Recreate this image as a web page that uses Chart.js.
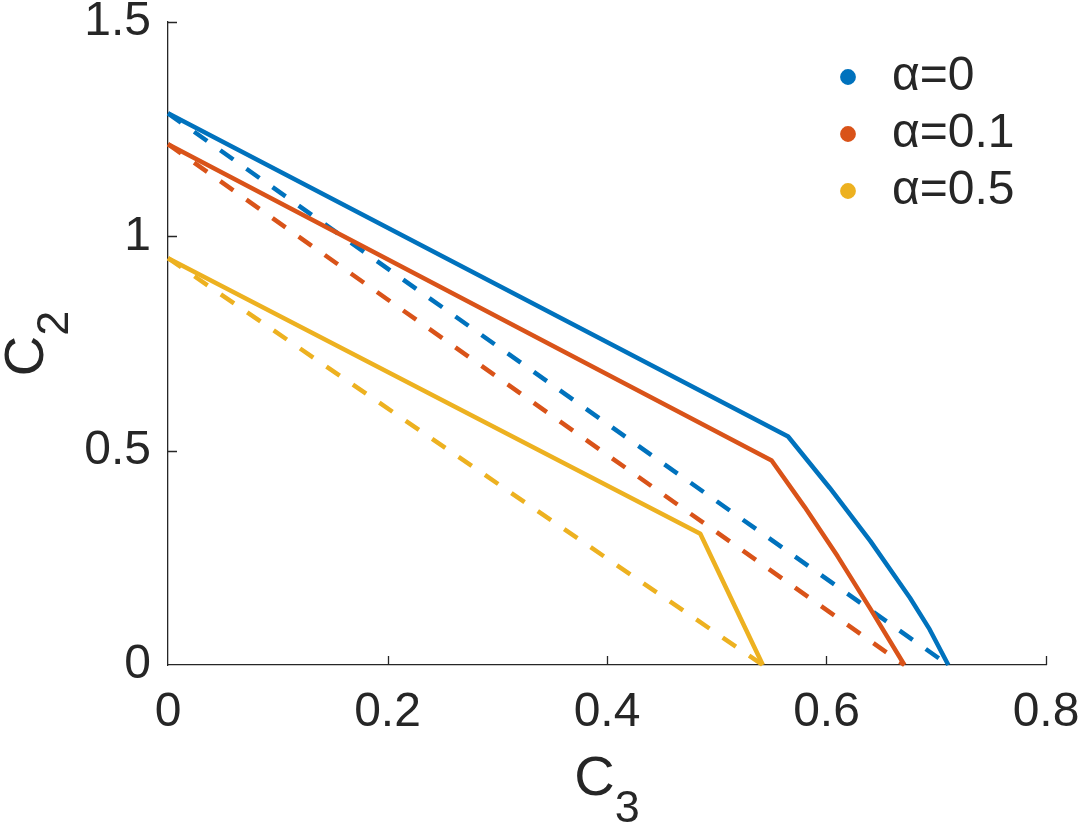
<!DOCTYPE html>
<html><head><meta charset="utf-8">
<script src="https://cdn.jsdelivr.net/npm/chart.js@4.4.1/dist/chart.umd.min.js"></script>
<style>html,body{margin:0;padding:0;background:#fff;overflow:hidden}</style>
</head><body>
<canvas id="c" width="1084" height="828"></canvas>
<script>
// ---- data ----
const seriesLabels = ['α=0', 'α=0.1', 'α=0.5'];
const seriesColors = ['#0072BD', '#D95319', '#EDB120'];

const solidC3_a0  = [0, 0.565, 0.603, 0.640, 0.676, 0.694, 0.711];
const solidC2_a0  = [1.287, 0.533, 0.413, 0.289, 0.157, 0.083, 0];
const solidC3_a01 = [0, 0.550, 0.580, 0.610, 0.640, 0.671];
const solidC2_a01 = [1.215, 0.477, 0.369, 0.254, 0.131, 0];
const solidC3_a05 = [0, 0.485, 0.542];
const solidC2_a05 = [0.949, 0.306, 0];

const dashC3_a0  = [0, 0.711];
const dashC2_a0  = [1.287, 0];
const dashC3_a01 = [0, 0.671];
const dashC2_a01 = [1.215, 0];
const dashC3_a05 = [0, 0.542];
const dashC2_a05 = [0.949, 0];

const xTickValues = [0, 0.2, 0.4, 0.6, 0.8];
const xTickLabels = ['0', '0.2', '0.4', '0.6', '0.8'];
const yTickValues = [0, 0.5, 1, 1.5];
const yTickLabels = ['0', '0.5', '1', '1.5'];
const xTitleMain = 'C', xTitleSub = '3';
const yTitleMain = 'C', yTitleSub = '2';

// ---- build ----
const toPts = (xs, ys) => xs.map((x, i) => ({x: x, y: ys[i]}));
const TEXT = '#262626';
const FONT = 'Liberation Sans, Arial, Helvetica, sans-serif';

function lineDs(label, xs, ys, color, dashed) {
  return {
    label: label, data: toPts(xs, ys), borderColor: color, backgroundColor: color,
    borderWidth: 4.5, borderDash: dashed ? [16, 16] : [], pointRadius: 0,
    borderJoinStyle: 'round',
    showLine: true, fill: false, tension: 0, clip: false, isDashed: dashed
  };
}

const datasets = [
  lineDs(seriesLabels[0], solidC3_a0, solidC2_a0, seriesColors[0], false),
  lineDs(seriesLabels[1], solidC3_a01, solidC2_a01, seriesColors[1], false),
  lineDs(seriesLabels[2], solidC3_a05, solidC2_a05, seriesColors[2], false),
  lineDs(seriesLabels[0], dashC3_a0, dashC2_a0, seriesColors[0], true),
  lineDs(seriesLabels[1], dashC3_a01, dashC2_a01, seriesColors[1], true),
  lineDs(seriesLabels[2], dashC3_a05, dashC2_a05, seriesColors[2], true)
];

const legendPlacer = {
  id: 'legendPlacer',
  afterLayout(chart) {
    const lg = chart.legend;
    if (!lg) return;
    const w = lg.right - lg.left, h = lg.bottom - lg.top;
    lg.left = 819; lg.top = 44; lg.right = lg.left + w; lg.bottom = lg.top + h;
  }
};

const innerTicks = {
  id: 'innerTicks',
  afterDraw(chart) {
    const ctx = chart.ctx, xs = chart.scales.x, ys = chart.scales.y;
    const ca = chart.chartArea, len = 9;
    ctx.save();
    ctx.strokeStyle = TEXT; ctx.lineWidth = 1.3;
    ctx.beginPath();
    xTickValues.forEach(v => {
      if (v === 0) return;
      const px = Math.round(xs.getPixelForValue(v)) + 0.5;
      ctx.moveTo(px, ca.bottom); ctx.lineTo(px, ca.bottom - len);
    });
    yTickValues.forEach(v => {
      if (v === 0) return;
      const py = Math.round(ys.getPixelForValue(v)) + 0.5;
      ctx.moveTo(ca.left, py); ctx.lineTo(ca.left + len, py);
    });
    ctx.stroke();

    // axis titles with subscripts
    ctx.fillStyle = TEXT;
    ctx.textBaseline = 'alphabetic';
    ctx.textAlign = 'left';
    const mainFont = '56px ' + FONT, subFont = '45px ' + FONT;
    ctx.font = mainFont; const wMain = ctx.measureText(xTitleMain).width;
    ctx.font = subFont; const wSub = ctx.measureText(xTitleSub).width;
    const cx = (ca.left + ca.right) / 2;
    const x0 = cx - (wMain + wSub) / 2;
    ctx.font = mainFont; ctx.fillText(xTitleMain, x0, ca.bottom + 130);
    ctx.font = subFont; ctx.fillText(xTitleSub, x0 + wMain, ca.bottom + 157);

    const cy = (ca.top + ca.bottom) / 2;
    ctx.translate(43, cy + (wMain + wSub) / 2);
    ctx.rotate(-Math.PI / 2);
    ctx.font = mainFont; ctx.fillText(yTitleMain, 0, 0);
    ctx.font = subFont; ctx.fillText(yTitleSub, wMain, 25);
    ctx.restore();
  }
};

new Chart(document.getElementById('c'), {
  type: 'scatter',
  data: { datasets: datasets },
  options: {
    responsive: false, animation: false, devicePixelRatio: 1,
    layout: { padding: { left: 0, top: 22, right: 38, bottom: 0 } },
    plugins: {
      legend: {
        position: 'chartArea', align: 'start',
        labels: {
          usePointStyle: true, pointStyle: 'circle', boxWidth: 40, boxHeight: 8,
          padding: 9, color: TEXT, font: { family: FONT, size: 48 },
          filter: (item, data) => !data.datasets[item.datasetIndex].isDashed
        }
      },
      tooltip: { enabled: false }
    },
    scales: {
      x: {
        type: 'linear', min: 0, max: 0.8,
        afterBuildTicks: s => { s.ticks = xTickValues.map(v => ({value: v})); },
        afterFit: s => { s.height = 163; s.paddingLeft = 0; s.paddingRight = 0; },
        grid: { display: true, drawOnChartArea: false, drawTicks: false },
        border: { display: true, color: TEXT, width: 1.3 },
        ticks: { color: TEXT, font: { family: FONT, size: 48 }, padding: 19, maxRotation: 0, autoSkip: false,
                 callback: (v, i) => xTickLabels[i] }
      },
      y: {
        type: 'linear', min: 0, max: 1.5,
        afterBuildTicks: s => { s.ticks = yTickValues.map(v => ({value: v})); },
        afterFit: s => { s.width = 168; s.paddingTop = 0; s.paddingBottom = 0; },
        grid: { display: true, drawOnChartArea: false, drawTicks: false },
        border: { display: true, color: TEXT, width: 1.3 },
        ticks: { color: TEXT, font: { family: FONT, size: 48 }, padding: 17, autoSkip: false,
                 callback: (v, i) => yTickLabels[i] }
      }
    }
  },
  plugins: [legendPlacer, innerTicks]
});
</script>
</body></html>
